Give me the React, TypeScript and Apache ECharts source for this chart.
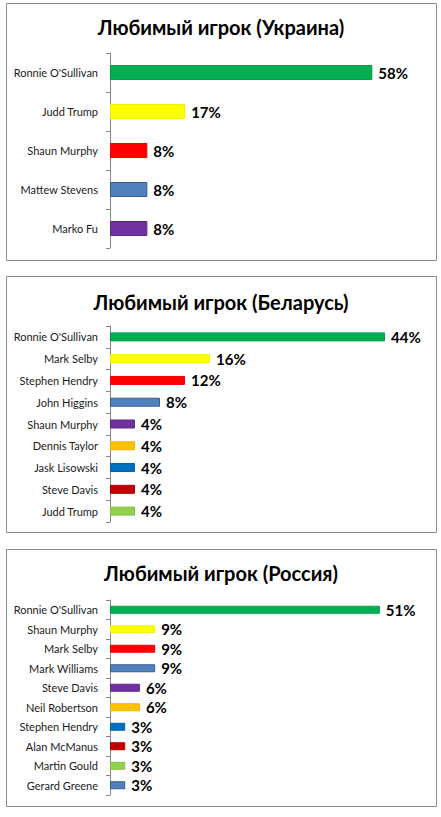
import { useEffect, useRef } from 'react'
import * as echarts from 'echarts'

// Украина
const ukrPlayers = ["Ronnie O'Sullivan", 'Judd Trump', 'Shaun Murphy', 'Mattew Stevens', 'Marko Fu']
const ukrValues = [58.3, 16.7, 8.3, 8.3, 8.3]
const ukrColors = ['#00B050', '#FFFF00', '#FF0000', '#4F81BD', '#7030A0']

// Беларусь
const blrPlayers = ["Ronnie O'Sullivan", 'Mark Selby', 'Stephen Hendry', 'John Higgins', 'Shaun Murphy', 'Dennis Taylor', 'Jask Lisowski', 'Steve Davis', 'Judd Trump']
const blrValues = [44, 16, 12, 8, 4, 4, 4, 4, 4]
const blrColors = ['#00B050', '#FFFF00', '#FF0000', '#4F81BD', '#7030A0', '#FFC000', '#0070C0', '#C00000', '#92D050']

// Россия
const rusPlayers = ["Ronnie O'Sullivan", 'Shaun Murphy', 'Mark Selby', 'Mark Williams', 'Steve Davis', 'Neil Robertson', 'Stephen Hendry', 'Alan McManus', 'Martin Gould', 'Gerard Greene']
const rusValues = [51.4, 8.6, 8.6, 8.6, 5.7, 5.7, 2.9, 2.9, 2.9, 2.9]
const rusColors = ['#00B050', '#FFFF00', '#FF0000', '#4F81BD', '#7030A0', '#FFC000', '#0070C0', '#C00000', '#92D050', '#4F81BD']

const titles = ['Любимый игрок (Украина)', 'Любимый игрок (Беларусь)', 'Любимый игрок (Россия)']

// обводка столбиков, как в Excel
const borders: Record<string, string> = {
  '#00B050': '#00A04A',
  '#FFFF00': '#F0F000',
  '#FF0000': '#F00000',
  '#4F81BD': '#385D8A',
  '#7030A0': '#5E2886',
  '#FFC000': '#F0B400',
  '#0070C0': '#0062A8',
  '#C00000': '#B00000',
  '#92D050': '#84C040'
}

const FONT = 'Lato, "Open Sans", sans-serif'

// панели: рамка, заголовок, область графика
const panels = [
  { box: [6.5, 3.5, 430, 257], titleY: 27, grid: { left: 110, top: 53, width: 315, height: 195 }, max: 70, barWidth: 15 },
  { box: [6.5, 276.5, 430, 256], titleY: 302, grid: { left: 110, top: 326, width: 312.5, height: 196 }, max: 50, barWidth: 9 },
  { box: [6.5, 549.5, 430, 257], titleY: 573, grid: { left: 110, top: 600, width: 315, height: 195 }, max: 60, barWidth: 8 }
]

const App: React.FC = () => {
  const chartRef = useRef<HTMLDivElement | null>(null)

  useEffect(() => {
    if (chartRef.current === null) return
    const chart = echarts.init(chartRef.current, null, { renderer: 'svg' })

    const sets = [
      { players: ukrPlayers, values: ukrValues, colors: ukrColors },
      { players: blrPlayers, values: blrValues, colors: blrColors },
      { players: rusPlayers, values: rusValues, colors: rusColors }
    ]

    chart.setOption({
      animation: false,
      backgroundColor: '#fff',
      textStyle: { fontFamily: FONT },
      graphic: panels.map((p, i) => ({
        type: 'group',
        children: [
          {
            type: 'rect',
            shape: { x: p.box[0], y: p.box[1], width: p.box[2], height: p.box[3] },
            style: { fill: '#fff', stroke: '#8C8C8C', lineWidth: 1 },
            z: -10
          },
          {
            type: 'text',
            x: 221,
            y: p.titleY,
            style: {
              text: titles[i],
              fill: '#000',
              font: `bold 20px ${FONT}`,
              textAlign: 'center',
              textVerticalAlign: 'middle'
            },
            z: 10
          }
        ]
      })),
      grid: panels.map(p => ({ ...p.grid, containLabel: false })),
      xAxis: panels.map((p, i) => ({
        type: 'value',
        gridIndex: i,
        min: 0,
        max: p.max,
        show: false,
        splitLine: { show: false }
      })),
      yAxis: sets.map((s, i) => ({
        type: 'category',
        gridIndex: i,
        inverse: true,
        data: s.players,
        axisLine: { show: true, lineStyle: { color: '#868686', width: 1 } },
        axisTick: { show: true, length: 4, lineStyle: { color: '#868686' } },
        axisLabel: { color: '#1a1a1a', fontSize: 11, margin: 12, fontFamily: FONT }
      })),
      series: sets.map((s, i) => ({
        type: 'bar',
        xAxisIndex: i,
        yAxisIndex: i,
        barWidth: panels[i].barWidth,
        data: s.values.map((v, j) => ({
          value: v,
          itemStyle: { color: s.colors[j], borderColor: borders[s.colors[j]], borderWidth: 1 }
        })),
        label: {
          show: true,
          position: 'right',
          distance: 6,
          color: '#000',
          fontWeight: 'bold',
          fontSize: 15,
          fontFamily: FONT,
          formatter: (p: { value: number }) => `${Math.round(p.value)}%`
        }
      }))
    })

    return () => {
      chart.dispose()
    }
  }, [])

  return (
    <div
      ref={chartRef}
      style={{ position: 'fixed', left: 0, top: 0, width: 441, height: 817 }}
    ></div>
  )
}

export default App
